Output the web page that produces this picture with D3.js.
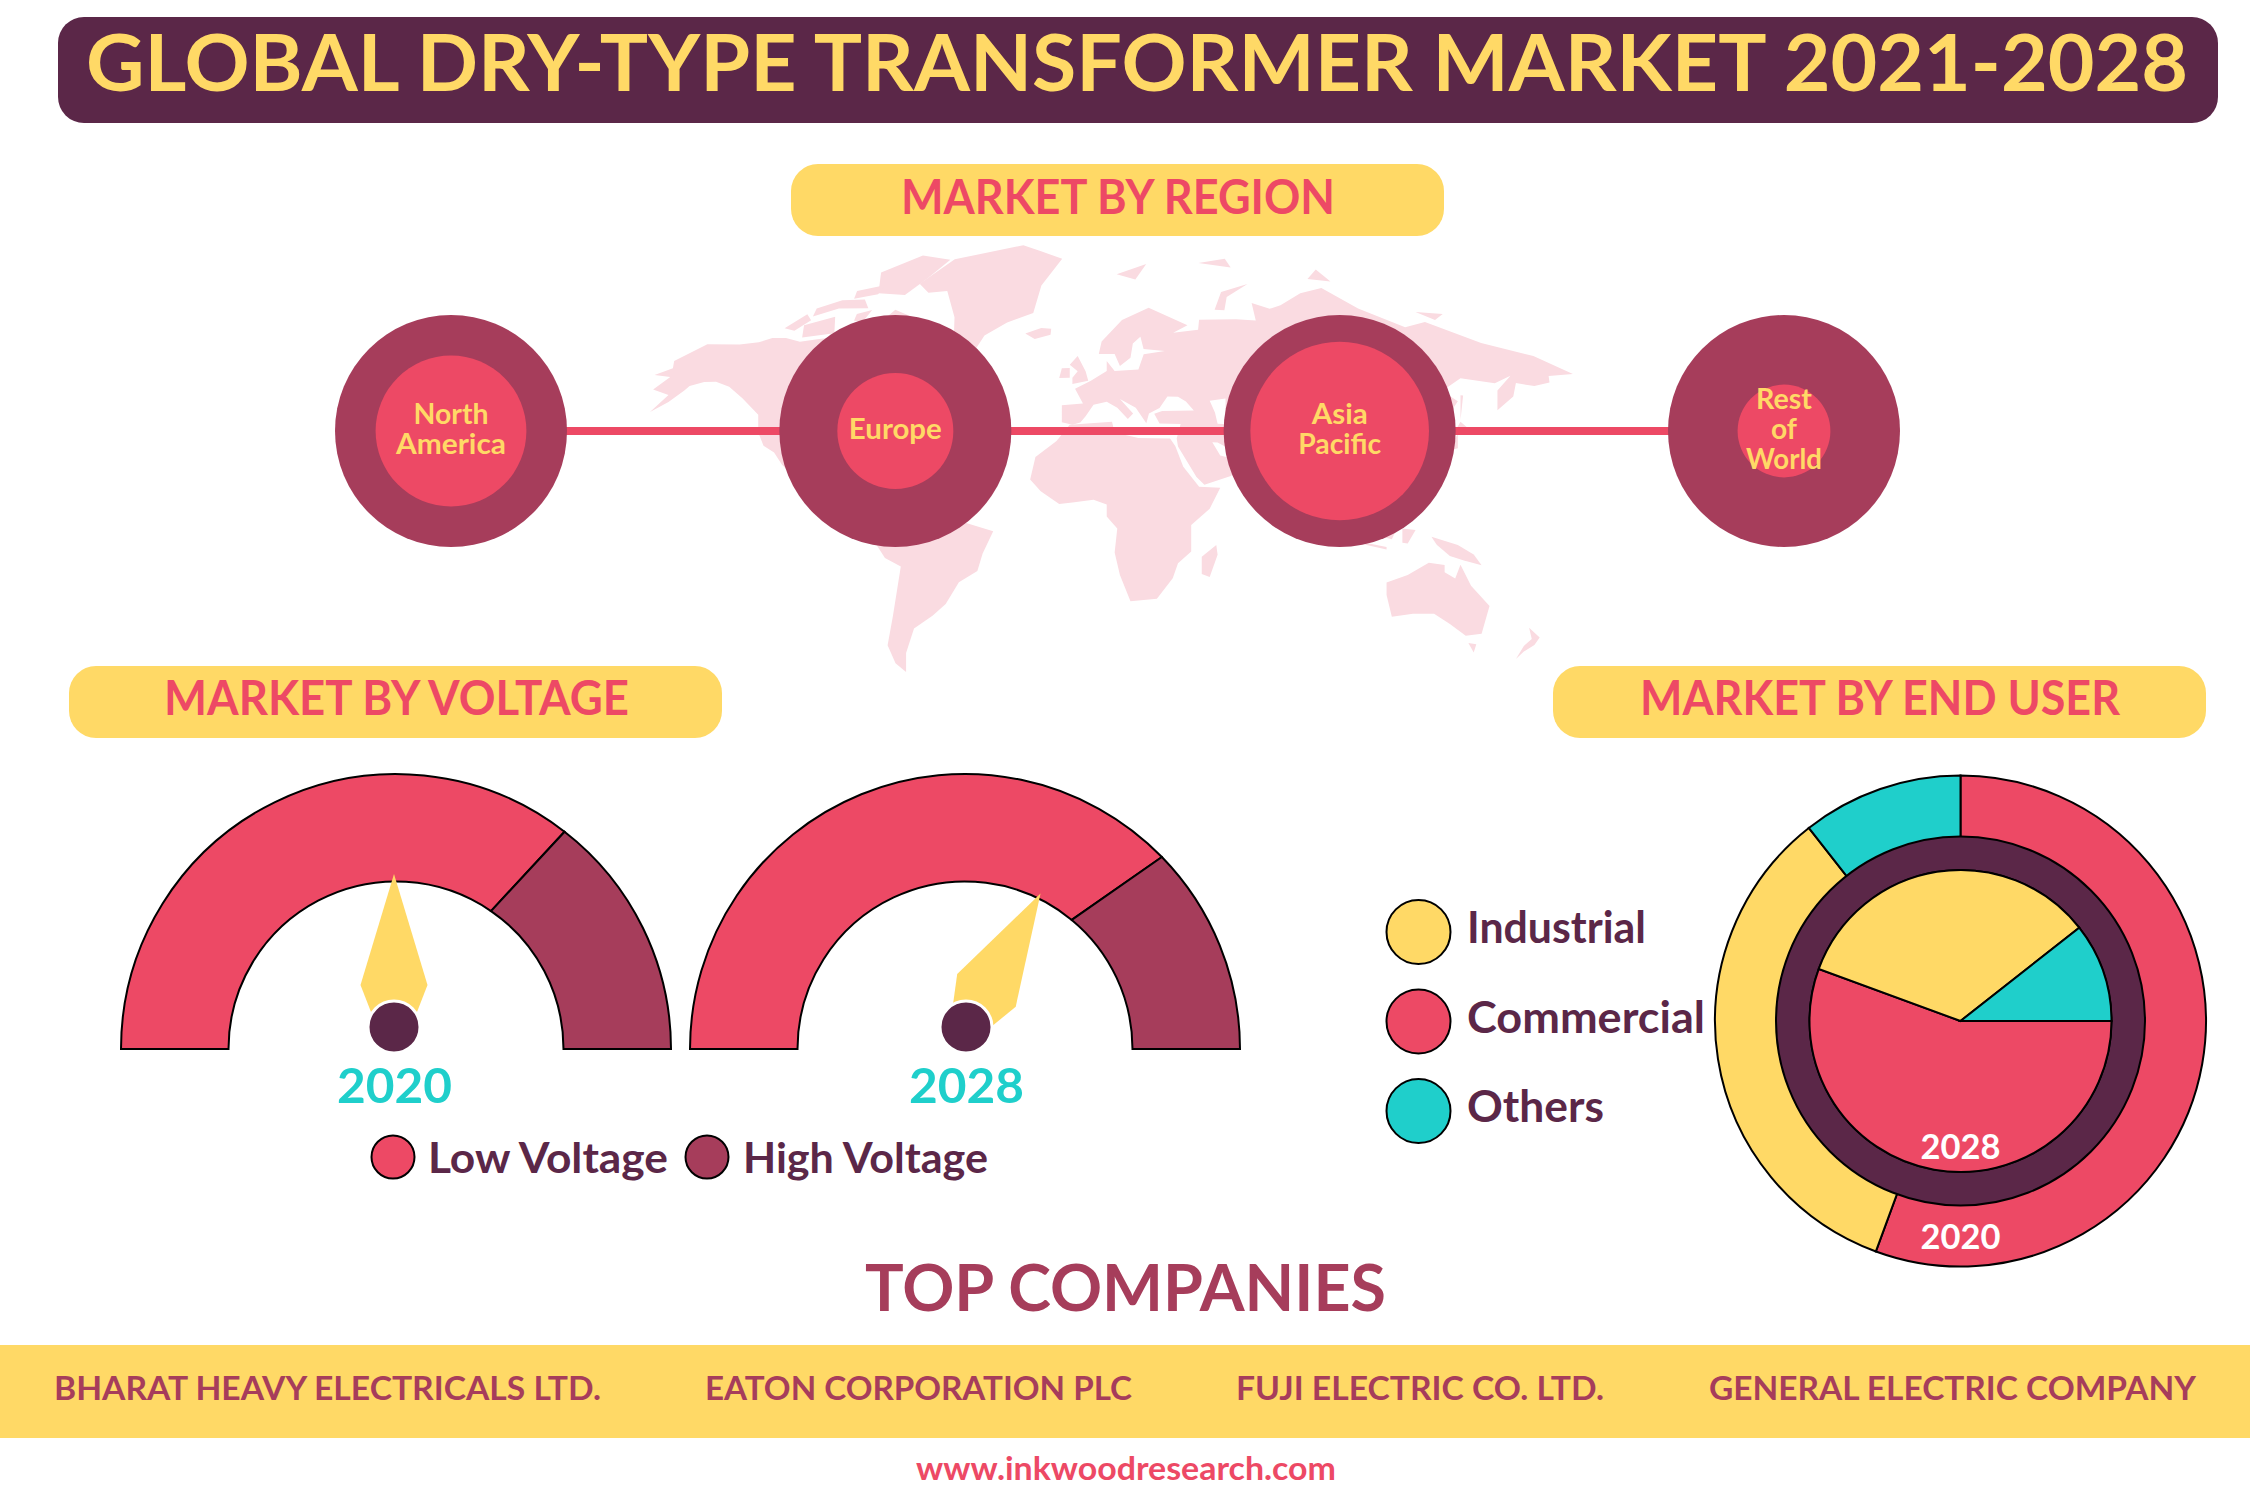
<!DOCTYPE html>
<html>
<head>
<meta charset="utf-8">
<title>Global Dry-Type Transformer Market</title>
<script src="https://cdn.jsdelivr.net/npm/d3@7"></script>
<style>
html, body { margin: 0; padding: 0; background: #fff; }
svg { display: block; }
text { font-family: Lato, "Noto Sans", sans-serif; font-weight: 700; }
</style>
</head>
<body>
<div id="chart"></div>
<script>

// region bubbles, inner circle as a share of the outer one
var regionLabels = [["North", "America"], ["Europe"], ["Asia", "Pacific"], ["Rest", "of", "World"]];
var regionShare = [65, 50, 77, 40];

// voltage gauges. the split line is not radial in the picture so both ends are kept
var voltageYears = ["2020", "2028"];
var lowVoltageOuter = [71, 75.4];
var lowVoltageInner = [69.2, 72];
var needleValue = [50, 66.2];
var voltageLegend = ["Low Voltage", "High Voltage"];

// end user rings
var endUsers = ["Commercial", "Industrial", "Others"];
var endUserShare = [55.6, 33.8, 10.6];
var endUserLegend = ["Industrial", "Commercial", "Others"];

var companies = ["BHARAT HEAVY ELECTRICALS LTD.", "EATON CORPORATION PLC", "FUJI ELECTRIC CO. LTD.", "GENERAL ELECTRIC COMPANY"];

// background map, rough coastlines as lon/lat
var landRings = [
	// north america
	[[-170,65.5],[-164,66.5],[-166,68.5],[-156,71.3],[-141,69.7],[-133,69.5],[-128,70],[-122,69.5],[-115,68],[-108,68],[-100,68],[-95,68],[-94,72],[-90,69],[-85,69.5],[-82,69],[-86,66],[-90,64],[-94,61],[-94,58.5],[-88,56.5],[-82,55],[-80,51.5],[-79,54],[-77,57],[-78,62],[-73,62],[-70,59],[-65,60],[-61,56],[-56,52.5],[-60,50],[-66,50],[-65,48],[-60,46],[-66,44],[-70,43],[-74,40.5],[-76,36],[-81,31.5],[-80,26],[-81.5,25],[-83,29],[-90,29.5],[-97,27.5],[-98,22],[-95,18.5],[-91,18.5],[-90,21.3],[-87,21],[-88,16],[-83.5,15],[-83.5,11],[-80,9],[-77.5,8.5],[-80,7.3],[-85,10],[-91,14],[-96,16],[-105,20],[-109,26],[-113,31],[-110,23],[-115,29],[-118,34],[-122,37],[-124,42],[-124,48],[-130,54],[-135,58],[-140,60],[-145,60.5],[-150,60],[-152,59],[-158,56.5],[-165,54.5],[-158,58.5],[-165,61],[-162,64]],
	[[-80,73],[-72,71],[-67,68],[-62,66],[-65,62],[-72,64],[-78,65],[-74,68],[-85,70]],
	[[-117,72],[-105,73],[-102,69],[-115,69]],
	[[-90,77],[-78,76],[-70,79],[-62,82],[-75,83.2],[-92,81]],
	[[-125,72],[-118,74.5],[-115,73],[-120,71]],
	[[-115,75.5],[-105,76.5],[-95,76],[-92,74],[-105,74.8],[-115,73.8]],
	[[-100,78],[-88,78.5],[-90,76.8],[-100,76.5]],
	[[-96,73],[-90,73.5],[-92,71],[-96,71.5]],
	[[-59,51],[-53,47],[-59,47.5]],
	// greenland and the north atlantic
	[[-73,78],[-68,76],[-60,76],[-54,70],[-52,65],[-43,60],[-40,65],[-32,68],[-22,70],[-20,76],[-12,81],[-22,82.5],[-30,83.6],[-60,82]],
	[[-24,65],[-18,66.3],[-14,66],[-14,64.5],[-20,63.5]],
	[[-85,22],[-80,23],[-75,20],[-78,20]],
	[[-74,19.5],[-69,19],[-71,18]],
	// south america
	[[-77.5,8.5],[-72,12],[-62,10.5],[-52,5],[-50,0],[-44,-2.5],[-35,-6],[-39,-15],[-41,-22],[-48,-26],[-53,-34],[-58,-38],[-65,-42],[-68,-50],[-68,-55.9],[-72,-53],[-75,-47],[-73,-37],[-70,-18],[-76,-14],[-81,-5],[-80,1],[-78,7]],
	// africa
	[[-6,36],[10,37],[11,33],[20,31],[32,31],[34,28],[37,20],[43,12],[51,12],[47,3],[40,-4],[40,-15],[35,-20],[33,-26],[27,-34],[17,-35],[13,-25],[11,-16],[12,-6],[8,-1],[8,4],[3,6],[-5,5],[-10,4.5],[-17,10],[-21,15],[-19,24],[-11,30]],
	[[49.5,-12],[50,-16],[47,-25],[44,-24],[44,-17]],
	// eurasia
	[[-9,37],[-9,43],[-1,43.5],[-4,48.5],[2,51],[8,54],[8,57],[11,54],[20,54.5],[22,59],[30,60],[22,60.5],[21,64],[24,65.5],[18,62],[17,58],[13,55.5],[11,59],[5,59],[6,62.5],[14,68],[25,71],[40,67],[34,65],[44,66],[45,68.5],[60,69],[68,69],[68,73],[75,72],[80,73],[90,76],[100,77.5],[113,74],[130,71],[140,73],[160,70],[180,69],[192,66],[180,64],[178,62],[170,60],[163,60],[162,56],[156,51],[156,57],[163,62],[155,59],[142,59],[135,54.5],[141,52],[135,43.5],[130,42.5],[127,39.5],[129,36],[126,34.5],[126,37.5],[121,40],[118,39],[122,37],[120,34],[122,30],[119,25],[110,21],[106,19],[109,13],[105,9],[100,13.5],[103,2],[100,6],[98,14],[94,17],[91,22],[87,21],[80,15],[80,10],[77,8],[73,20],[67,25],[57,25.5],[56,27],[50,30],[48,30],[51,25],[56,24],[60,22],[55,17],[45,13],[42,16],[35,28],[34.5,31],[36,36.5],[28,36.5],[26,40],[29,41],[41,41.5],[38,44.5],[35,46],[31,46],[28,42],[24,40],[23,36.5],[19,42],[13,45],[18,40],[16,38],[12,42],[8,44],[3,43],[0,39],[-2,36.8],[-5,36]],
	[[-5,50],[1,51],[0,54],[-3,58.5],[-6,56],[-3,54],[-5,52]],
	[[-10,52],[-6,52],[-6,55],[-9,55]],
	[[12,78],[25,80],[20,77]],
	[[48,80.5],[60,81.5],[62,80]],
	[[95,79],[105,79],[100,81]],
	[[138,75],[150,75.5],[145,73.8]],
	[[52,71],[56,75],[68,77],[58,74],[56,71]],
	[[130,32],[136,34],[141,36],[141,41],[139,38],[133,35.5]],
	[[140,42],[145,43.5],[142,45.5]],
	[[142,46],[143,54],[142,54]],
	[[80,9.5],[82,7],[80,6]],
	// southeast asia and oceania
	[[95,5.5],[104,-2],[106,-6],[101,-3]],
	[[105,-6.5],[114,-7.5],[114,-8.5],[106,-7.5]],
	[[109,1],[117,7],[118,1],[116,-4],[110,-3]],
	[[120,1],[125,1],[122,-5],[120,-5]],
	[[131,-1],[141,-3],[147,-6],[150,-10],[143,-9],[138,-8],[133,-4]],
	[[120,18],[122,18],[124,12],[126,7],[122,7],[120,14]],
	[[114,-22],[122,-18],[130,-12],[136,-12],[136,-15],[140,-17],[142,-11],[146,-19],[153,-26],[150,-37],[144,-38.5],[138,-35],[132,-32],[124,-33],[116,-35],[114,-27]],
	[[145,-41],[148,-41],[147,-44]],
	[[168,-32],[172,-35],[170,-38],[166,-41],[163,-44],[166,-39],[169,-36]]
];
var lakeRings = [
	[[47,45],[53,46],[53,40],[54,37],[50,37],[49,41]],
	[[-90,48.5],[-85,47.5],[-85,45],[-82,43],[-80,44.5],[-84,46],[-88,46.5]]
];

var red = "#ed4965", mauve = "#a63d5b", dark = "#5b2748", yellow = "#ffd966", teal = "#1fcfcb", pink = "#fadbe1";

var endUserColor = d3.scaleOrdinal().domain(endUsers).range([red, yellow, teal]);

var svg = d3.select("#chart").append("svg")
	.attr("width", 2250)
	.attr("height", 1500)
	.attr("viewBox", "0 0 2250 1500");

svg.append("rect").attr("width", 2250).attr("height", 1500).attr("fill", "#fff");

// all the writing goes through here, width is what the text spans in the picture
function label(text, x, y, size, fill, width){
	return svg.append("text")
		.attr("x", x)
		.attr("y", y)
		.attr("font-size", size)
		.attr("fill", fill)
		.attr("textLength", width)
		.attr("lengthAdjust", "spacingAndGlyphs")
		.text(text);
}

function pill(x, y, w, h, r, fill){
	svg.append("rect")
		.attr("x", x).attr("y", y)
		.attr("width", w).attr("height", h)
		.attr("rx", r).attr("ry", r)
		.attr("fill", fill);
}

// title
pill(58, 17, 2160, 106, 26, dark);
label("GLOBAL DRY-TYPE TRANSFORMER MARKET 2021-2028", 86, 91, 79, yellow, 2102);

// map. the picture uses a bent projection, edges sag and the far north narrows
function miller(lat){
	return Math.log(Math.tan(Math.PI / 4 + 0.4 * lat * Math.PI / 180));
}
var mapLat = d3.scaleLinear().domain([miller(-55.9), miller(83.6)]).range([663.5, 243]);
var mapSag = d3.scalePow().exponent(2).domain([0, 180]).range([0, 45]);
var mapWidth = d3.scaleLinear().domain([60, 84]).range([2.64, 2.21]).clamp(true);
var mapLine = d3.line()
	.x(function(d){ return 1112 + mapWidth(d[1]) * (d[0] - 10); })
	.y(function(d){ return mapLat(miller(d[1])) + mapSag(Math.abs(d[0] - 10)); })
	.curve(d3.curveLinearClosed);

svg.append("g").selectAll("path").data(landRings).join("path")
	.attr("d", mapLine)
	.attr("fill", pink);
svg.append("g").selectAll("path").data(lakeRings).join("path")
	.attr("d", mapLine)
	.attr("fill", "#fff");

// regions
pill(791, 164, 653, 72, 27, yellow);
label("MARKET BY REGION", 901, 214, 48, red, 434);

var regionX = d3.scalePoint().domain(d3.range(regionShare.length)).range([451, 1784]);
var regionR = d3.scaleLinear().domain([0, 100]).range([0, 116]);
var regionCy = 431;

svg.append("line")
	.attr("x1", regionX(0)).attr("x2", regionX(3))
	.attr("y1", regionCy).attr("y2", regionCy)
	.attr("stroke", red)
	.attr("stroke-width", 8);

var regionG = svg.append("g").selectAll("g").data(regionShare).join("g");
regionG.append("circle")
	.attr("cx", function(d, i){ return regionX(i); })
	.attr("cy", regionCy)
	.attr("r", regionR(100))
	.attr("fill", mauve);
regionG.append("circle")
	.attr("cx", function(d, i){ return regionX(i); })
	.attr("cy", regionCy)
	.attr("r", function(d){ return regionR(d); })
	.attr("fill", red);

var regionWidths = [[75, 110], [93], [56, 83], [56, 26, 76]];
regionLabels.forEach(function(lines, i){
	lines.forEach(function(line, j){
		var w = regionWidths[i][j];
		var base = regionCy + 8 + (j - (lines.length - 1) / 2) * 30;
		label(line, regionX(i) - w / 2, base, 28, yellow, w);
	});
});

// voltage
pill(69, 666, 653, 72, 27, yellow);
label("MARKET BY VOLTAGE", 164, 715, 48, red, 465);

var gaugeAngle = d3.scaleLinear().domain([0, 100]).range([Math.PI, 2 * Math.PI]);
var needleAngle = d3.scaleLinear().domain([0, 100]).range([-90, 90]);
var gaugeX = [396, 965];
var hubX = [394, 966];
var gaugeY = 1049, hubY = 1027, outerR = 275, innerR = 167.5;

function band(cx, from, fromIn, to, toIn){
	var p = d3.path();
	p.arc(cx, gaugeY, outerR, gaugeAngle(from), gaugeAngle(to), false);
	p.arc(cx, gaugeY, innerR, gaugeAngle(toIn), gaugeAngle(fromIn), true);
	p.closePath();
	return p.toString();
}

var needleShape = d3.line()([[0, -153], [33.5, -42], [23, -15], [14, -4], [-14, -4], [-23, -15], [-33.5, -42]]) + "Z";

voltageYears.forEach(function(year, i){
	var g = svg.append("g");
	g.append("path")
		.attr("d", band(gaugeX[i], 0, 0, lowVoltageOuter[i], lowVoltageInner[i]))
		.attr("fill", red).attr("stroke", "#000").attr("stroke-width", 2);
	g.append("path")
		.attr("d", band(gaugeX[i], lowVoltageOuter[i], lowVoltageInner[i], 100, 100))
		.attr("fill", mauve).attr("stroke", "#000").attr("stroke-width", 2);
	g.append("path")
		.attr("d", needleShape)
		.attr("transform", "translate(" + hubX[i] + "," + hubY + ") rotate(" + needleAngle(needleValue[i]) + ")")
		.attr("fill", yellow);
	g.append("circle")
		.attr("cx", hubX[i]).attr("cy", hubY).attr("r", 26)
		.attr("fill", dark).attr("stroke", "#fff").attr("stroke-width", 3);
	label(year, hubX[i] - 57, 1103, 47, teal, 115);
});

var voltageLegendX = [393, 707];
var voltageTextX = [428, 743];
var voltageTextW = [240, 245];
voltageLegend.forEach(function(name, i){
	svg.append("circle")
		.attr("cx", voltageLegendX[i]).attr("cy", 1157).attr("r", 21.5)
		.attr("fill", i == 0 ? red : mauve)
		.attr("stroke", "#000").attr("stroke-width", 2);
	label(name, voltageTextX[i], 1173, 42, dark, voltageTextW[i]);
});

// end user
pill(1553, 666, 653, 72, 27, yellow);
label("MARKET BY END USER", 1640, 715, 48, red, 480);

var legendY = d3.scalePoint().domain(endUserLegend).range([932, 1111]);
var legendTextW = [179, 238, 137];
endUserLegend.forEach(function(name, i){
	svg.append("circle")
		.attr("cx", 1418.5).attr("cy", legendY(name)).attr("r", 32)
		.attr("fill", endUserColor(name))
		.attr("stroke", "#000").attr("stroke-width", 2);
	label(name, 1467, legendY(name) + 11, 43, dark, legendTextW[i]);
});

var ringG = svg.append("g").attr("transform", "translate(1960.5,1021)");

var pie2020 = d3.pie().sort(null);
var pie2028 = d3.pie().sort(null).startAngle(Math.PI / 2).endAngle(Math.PI / 2 + 2 * Math.PI);
var arc2020 = d3.arc().innerRadius(151).outerRadius(245.5);
var arc2028 = d3.arc().innerRadius(0).outerRadius(151);
var arcDark = d3.arc().innerRadius(151).outerRadius(184.5).startAngle(0).endAngle(2 * Math.PI);

ringG.selectAll(".outer").data(pie2020(endUserShare)).join("path")
	.attr("class", "outer")
	.attr("d", arc2020)
	.attr("fill", function(d, i){ return endUserColor(endUsers[i]); })
	.attr("stroke", "#000").attr("stroke-width", 2);
ringG.append("path")
	.attr("d", arcDark())
	.attr("fill", dark)
	.attr("stroke", "#000").attr("stroke-width", 2);
ringG.selectAll(".inner").data(pie2028(endUserShare)).join("path")
	.attr("class", "inner")
	.attr("d", arc2028)
	.attr("fill", function(d, i){ return endUserColor(endUsers[i]); })
	.attr("stroke", "#000").attr("stroke-width", 2);

label("2028", 1920.5, 1159, 34, "#fff", 80);
label("2020", 1920.5, 1249, 34, "#fff", 80);

// companies
label("TOP COMPANIES", 865, 1311, 65, mauve, 521);
svg.append("rect").attr("x", 0).attr("y", 1345).attr("width", 2250).attr("height", 93).attr("fill", yellow);

var companyX = [54, 705, 1236, 1709];
var companyW = [547, 427, 368, 487];
companies.forEach(function(name, i){
	label(name, companyX[i], 1400, 33, mauve, companyW[i]);
});

label("www.inkwoodresearch.com", 916, 1480, 32, red, 420);

</script>
</body>
</html>
